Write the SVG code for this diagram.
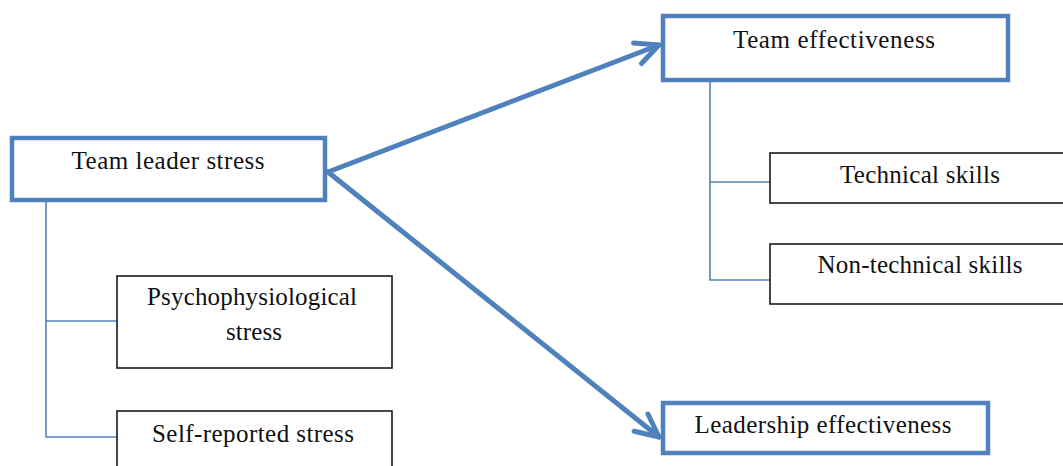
<svg xmlns="http://www.w3.org/2000/svg" width="1063" height="466" viewBox="0 0 1063 466">
<style>
.main{fill:#fff;stroke:#4f81bd;stroke-width:4.5}
.sub{fill:#fff;stroke:#1a1a1a;stroke-width:1.6}
.lbl{font-family:"Liberation Serif","Times New Roman",serif;font-size:25px;fill:#111;text-anchor:middle}
.thin{fill:none;stroke:#4f81bd;stroke-width:1.6}
.arrow{fill:none;stroke:#4f81bd;stroke-width:5;stroke-linecap:round;stroke-linejoin:round}
</style>
<defs>
<marker id="ah" markerUnits="userSpaceOnUse" viewBox="-30 -20 40 40" markerWidth="40" markerHeight="40" refX="0" refY="0" orient="auto" overflow="visible">
<path d="M-23,-11 L0,0 L-23,11" fill="none" stroke="#4f81bd" stroke-width="5" stroke-linecap="round" stroke-linejoin="round"/>
</marker>
</defs>
<rect width="1063" height="466" fill="#fff"/>
<g id="connectors">
<path class="thin" d="M46,201 V437 H117 M46,321 H117"/>
<path class="thin" d="M710,82 V280 H770 M710,182 H770"/>
<path class="arrow" d="M328,172 L659,45" marker-end="url(#ah)"/>
<path class="arrow" d="M328,172 L659,437" marker-end="url(#ah)"/>
</g>
<g id="team-leader-stress">
<rect class="main" x="12" y="138" width="313" height="62"/>
<text class="lbl" x="168" y="169" textLength="193" lengthAdjust="spacing">Team leader stress</text>
</g>
<g id="psychophysiological-stress">
<rect class="sub" x="117" y="276" width="275" height="92"/>
<text class="lbl" x="252" y="305" textLength="210" lengthAdjust="spacing">Psychophysiological</text>
<text class="lbl" x="254" y="340" textLength="56" lengthAdjust="spacing">stress</text>
</g>
<g id="self-reported-stress">
<rect class="sub" x="117" y="411" width="275" height="80"/>
<text class="lbl" x="253" y="442" textLength="202" lengthAdjust="spacing">Self-reported stress</text>
</g>
<g id="team-effectiveness">
<rect class="main" x="663" y="16" width="345" height="64"/>
<text class="lbl" x="834" y="48" textLength="202" lengthAdjust="spacing">Team effectiveness</text>
</g>
<g id="technical-skills">
<rect class="sub" x="770" y="153" width="320" height="50"/>
<text class="lbl" x="920" y="183" textLength="160" lengthAdjust="spacing">Technical skills</text>
</g>
<g id="non-technical-skills">
<rect class="sub" x="770" y="244" width="320" height="60"/>
<text class="lbl" x="920" y="273" textLength="205" lengthAdjust="spacing">Non-technical skills</text>
</g>
<g id="leadership-effectiveness">
<rect class="main" x="663" y="403" width="325" height="50"/>
<text class="lbl" x="823" y="433" textLength="257" lengthAdjust="spacing">Leadership effectiveness</text>
</g>
</svg>
